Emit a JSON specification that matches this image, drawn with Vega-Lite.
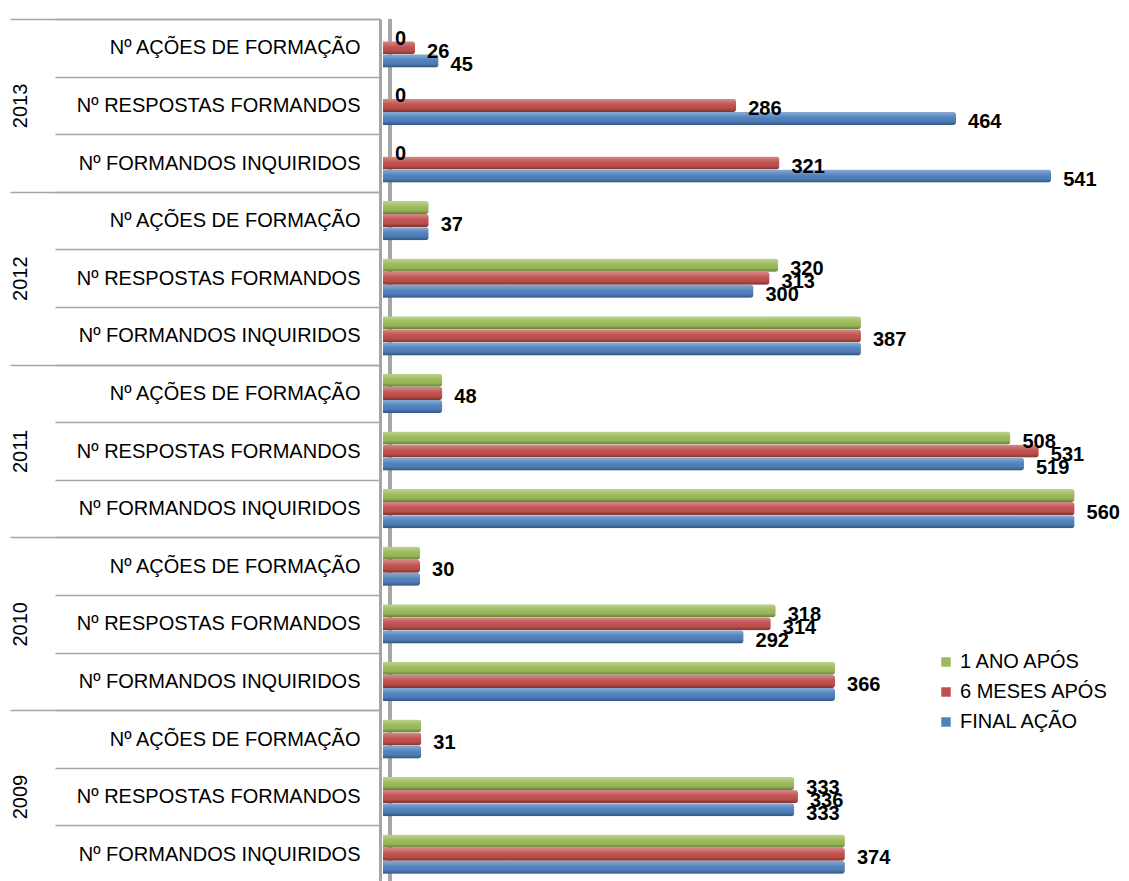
{
  "$schema": "https://vega.github.io/schema/vega-lite/v6.json",
  "width": 741,
  "height": 864,
  "autosize": "none",
  "padding": {"left": 383, "top": 19, "right": 5, "bottom": 0},
  "background": "white",
  "config": {"view": {"stroke": null}, "font": "Liberation Sans"},
  "data": {
    "values": [
      {"year": "2013", "category": "Nº AÇÕES DE FORMAÇÃO", "series": "1 ANO APÓS", "value": 0, "label": "0"},
      {"year": "2013", "category": "Nº AÇÕES DE FORMAÇÃO", "series": "6 MESES APÓS", "value": 26, "label": "26"},
      {"year": "2013", "category": "Nº AÇÕES DE FORMAÇÃO", "series": "FINAL AÇÃO", "value": 45, "label": "45"},
      {"year": "2013", "category": "Nº RESPOSTAS FORMANDOS", "series": "1 ANO APÓS", "value": 0, "label": "0"},
      {"year": "2013", "category": "Nº RESPOSTAS FORMANDOS", "series": "6 MESES APÓS", "value": 286, "label": "286"},
      {"year": "2013", "category": "Nº RESPOSTAS FORMANDOS", "series": "FINAL AÇÃO", "value": 464, "label": "464"},
      {"year": "2013", "category": "Nº FORMANDOS INQUIRIDOS", "series": "1 ANO APÓS", "value": 0, "label": "0"},
      {"year": "2013", "category": "Nº FORMANDOS INQUIRIDOS", "series": "6 MESES APÓS", "value": 321, "label": "321"},
      {"year": "2013", "category": "Nº FORMANDOS INQUIRIDOS", "series": "FINAL AÇÃO", "value": 541, "label": "541"},
      {"year": "2012", "category": "Nº AÇÕES DE FORMAÇÃO", "series": "1 ANO APÓS", "value": 37, "label": ""},
      {"year": "2012", "category": "Nº AÇÕES DE FORMAÇÃO", "series": "6 MESES APÓS", "value": 37, "label": "37"},
      {"year": "2012", "category": "Nº AÇÕES DE FORMAÇÃO", "series": "FINAL AÇÃO", "value": 37, "label": ""},
      {"year": "2012", "category": "Nº RESPOSTAS FORMANDOS", "series": "1 ANO APÓS", "value": 320, "label": "320"},
      {"year": "2012", "category": "Nº RESPOSTAS FORMANDOS", "series": "6 MESES APÓS", "value": 313, "label": "313"},
      {"year": "2012", "category": "Nº RESPOSTAS FORMANDOS", "series": "FINAL AÇÃO", "value": 300, "label": "300"},
      {"year": "2012", "category": "Nº FORMANDOS INQUIRIDOS", "series": "1 ANO APÓS", "value": 387, "label": ""},
      {"year": "2012", "category": "Nº FORMANDOS INQUIRIDOS", "series": "6 MESES APÓS", "value": 387, "label": "387"},
      {"year": "2012", "category": "Nº FORMANDOS INQUIRIDOS", "series": "FINAL AÇÃO", "value": 387, "label": ""},
      {"year": "2011", "category": "Nº AÇÕES DE FORMAÇÃO", "series": "1 ANO APÓS", "value": 48, "label": ""},
      {"year": "2011", "category": "Nº AÇÕES DE FORMAÇÃO", "series": "6 MESES APÓS", "value": 48, "label": "48"},
      {"year": "2011", "category": "Nº AÇÕES DE FORMAÇÃO", "series": "FINAL AÇÃO", "value": 48, "label": ""},
      {"year": "2011", "category": "Nº RESPOSTAS FORMANDOS", "series": "1 ANO APÓS", "value": 508, "label": "508"},
      {"year": "2011", "category": "Nº RESPOSTAS FORMANDOS", "series": "6 MESES APÓS", "value": 531, "label": "531"},
      {"year": "2011", "category": "Nº RESPOSTAS FORMANDOS", "series": "FINAL AÇÃO", "value": 519, "label": "519"},
      {"year": "2011", "category": "Nº FORMANDOS INQUIRIDOS", "series": "1 ANO APÓS", "value": 560, "label": ""},
      {"year": "2011", "category": "Nº FORMANDOS INQUIRIDOS", "series": "6 MESES APÓS", "value": 560, "label": "560"},
      {"year": "2011", "category": "Nº FORMANDOS INQUIRIDOS", "series": "FINAL AÇÃO", "value": 560, "label": ""},
      {"year": "2010", "category": "Nº AÇÕES DE FORMAÇÃO", "series": "1 ANO APÓS", "value": 30, "label": ""},
      {"year": "2010", "category": "Nº AÇÕES DE FORMAÇÃO", "series": "6 MESES APÓS", "value": 30, "label": "30"},
      {"year": "2010", "category": "Nº AÇÕES DE FORMAÇÃO", "series": "FINAL AÇÃO", "value": 30, "label": ""},
      {"year": "2010", "category": "Nº RESPOSTAS FORMANDOS", "series": "1 ANO APÓS", "value": 318, "label": "318"},
      {"year": "2010", "category": "Nº RESPOSTAS FORMANDOS", "series": "6 MESES APÓS", "value": 314, "label": "314"},
      {"year": "2010", "category": "Nº RESPOSTAS FORMANDOS", "series": "FINAL AÇÃO", "value": 292, "label": "292"},
      {"year": "2010", "category": "Nº FORMANDOS INQUIRIDOS", "series": "1 ANO APÓS", "value": 366, "label": ""},
      {"year": "2010", "category": "Nº FORMANDOS INQUIRIDOS", "series": "6 MESES APÓS", "value": 366, "label": "366"},
      {"year": "2010", "category": "Nº FORMANDOS INQUIRIDOS", "series": "FINAL AÇÃO", "value": 366, "label": ""},
      {"year": "2009", "category": "Nº AÇÕES DE FORMAÇÃO", "series": "1 ANO APÓS", "value": 31, "label": ""},
      {"year": "2009", "category": "Nº AÇÕES DE FORMAÇÃO", "series": "6 MESES APÓS", "value": 31, "label": "31"},
      {"year": "2009", "category": "Nº AÇÕES DE FORMAÇÃO", "series": "FINAL AÇÃO", "value": 31, "label": ""},
      {"year": "2009", "category": "Nº RESPOSTAS FORMANDOS", "series": "1 ANO APÓS", "value": 333, "label": "333"},
      {"year": "2009", "category": "Nº RESPOSTAS FORMANDOS", "series": "6 MESES APÓS", "value": 336, "label": "336"},
      {"year": "2009", "category": "Nº RESPOSTAS FORMANDOS", "series": "FINAL AÇÃO", "value": 333, "label": "333"},
      {"year": "2009", "category": "Nº FORMANDOS INQUIRIDOS", "series": "1 ANO APÓS", "value": 374, "label": ""},
      {"year": "2009", "category": "Nº FORMANDOS INQUIRIDOS", "series": "6 MESES APÓS", "value": 374, "label": "374"},
      {"year": "2009", "category": "Nº FORMANDOS INQUIRIDOS", "series": "FINAL AÇÃO", "value": 374, "label": ""}
    ]
  },
  "transform": [{"calculate": "datum.year + '|' + datum.category", "as": "key"}],
  "resolve": {"axis": {"y": "independent"}},
  "layer": [
    {
      "mark": {"type": "rule", "color": "#A6A6A6", "strokeWidth": 4, "xOffset": 7},
      "encoding": {
        "x": {"datum": 0, "type": "quantitative", "scale": {"domain": [0, 600]}, "axis": null}
      }
    },
    {
      "mark": {"type": "bar", "cornerRadiusEnd": 3},
      "encoding": {
        "x": {"field": "value", "type": "quantitative", "scale": {"domain": [0, 600]}, "axis": null},
        "y": {
          "field": "key", "type": "nominal", "sort": null,
          "scale": {"paddingInner": 0.32, "paddingOuter": 0.16},
          "axis": {
            "orient": "left", "title": null, "tickSize": 325, "tickOffset": -28.8,
            "tickColor": "#A6A6A6", "tickWidth": 1.5, "domainColor": "#A6A6A6", "domainWidth": 3,
            "labelExpr": "split(datum.value, '|')[1]", "labelFontSize": 20, "labelColor": "black",
            "labelPadding": -305, "labelOffset": 28.8, "labelAlign": "right", "labelBaseline": "middle", "offset": 3,
            "labelLimit": 0, "grid": false
          }
        },
        "yOffset": {
          "field": "series", "type": "nominal",
          "sort": ["1 ANO APÓS", "6 MESES APÓS", "FINAL AÇÃO"],
          "scale": {"paddingInner": 0, "paddingOuter": 0}
        },
        "color": {
          "field": "series", "type": "nominal",
          "scale": {"domain": ["1 ANO APÓS", "6 MESES APÓS", "FINAL AÇÃO"], "range": ["#9BBB59", "#C0504D", "#4F81BD"]},
          "legend": {
            "orient": "none", "legendX": 553, "legendY": 633, "title": null, "symbolType": "square",
            "symbolSize": 90, "labelFontSize": 20, "labelColor": "black", "rowPadding": 10,
            "symbolStrokeWidth": 0, "labelOffset": 4, "padding": 0
          }
        }
      }
    },
    {
      "mark": {
        "type": "bar", "cornerRadiusEnd": 3,
        "fill": {
          "gradient": "linear", "x1": 0, "y1": 0, "x2": 0, "y2": 1,
          "stops": [
            {"offset": 0, "color": "rgba(255,255,255,0.35)"},
            {"offset": 0.35, "color": "rgba(255,255,255,0.08)"},
            {"offset": 0.7, "color": "rgba(0,0,0,0.02)"},
            {"offset": 1, "color": "rgba(0,0,0,0.35)"}
          ]
        }
      },
      "encoding": {
        "x": {"field": "value", "type": "quantitative", "scale": {"domain": [0, 600]}, "axis": null},
        "y": {"field": "key", "type": "nominal", "sort": null, "scale": {"paddingInner": 0.32, "paddingOuter": 0.16}, "axis": null},
        "yOffset": {
          "field": "series", "type": "nominal",
          "sort": ["1 ANO APÓS", "6 MESES APÓS", "FINAL AÇÃO"],
          "scale": {"paddingInner": 0, "paddingOuter": 0}
        }
      }
    },
    {
      "mark": {"type": "text", "align": "left", "baseline": "middle", "dx": 12, "dy": 4, "fontSize": 20, "fontWeight": "bold", "color": "black"},
      "encoding": {
        "x": {"field": "value", "type": "quantitative", "scale": {"domain": [0, 600]}, "axis": null},
        "y": {
          "field": "key", "type": "nominal", "sort": null,
          "scale": {"paddingInner": 0.32, "paddingOuter": 0.16},
          "axis": {
            "orient": "left", "title": null, "tickSize": 370, "tickOffset": -28.8,
            "values": ["2013|Nº AÇÕES DE FORMAÇÃO", "2012|Nº AÇÕES DE FORMAÇÃO", "2011|Nº AÇÕES DE FORMAÇÃO", "2010|Nº AÇÕES DE FORMAÇÃO", "2009|Nº AÇÕES DE FORMAÇÃO"],
            "tickColor": "#A6A6A6", "tickWidth": 1.5, "domain": false, "grid": false,
            "labelExpr": "split(datum.value, '|')[0]", "labelAngle": -90, "labelAlign": "center",
            "labelBaseline": "middle", "labelPadding": -10, "labelOffset": 86.4, "labelFontSize": 20,
            "labelColor": "black", "offset": 3, "labelLimit": 0
          }
        },
        "yOffset": {
          "field": "series", "type": "nominal",
          "sort": ["1 ANO APÓS", "6 MESES APÓS", "FINAL AÇÃO"],
          "scale": {"paddingInner": 0, "paddingOuter": 0}
        },
        "text": {"field": "label"}
      }
    }
  ]
}
